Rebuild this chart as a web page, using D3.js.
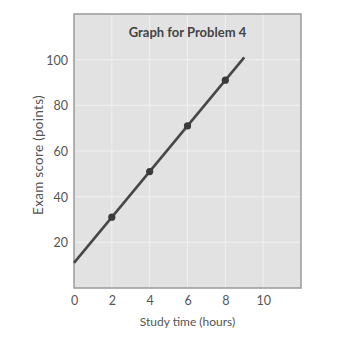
<!DOCTYPE html>
<meta charset="utf-8">
<html lang="en">
<head>
  <title>Graph for Problem 4</title>
  <script src="https://d3js.org/d3.v7.min.js"></script>
  <style>
    body { margin: 0; background: #fff; }
    text { font-family: Lato, "Open Sans", sans-serif; }
  </style>
</head>
<body>
<div id="chart"></div>
<script>
  // data
  var hours = [2, 4, 6, 8];
  var scores = [31, 51, 71, 91];
  var lineHours = [0, 9];
  var lineScores = [11, 101];
  var xTicks = [0, 2, 4, 6, 8, 10];
  var yTicks = [20, 40, 60, 80, 100];

  var W = 343, H = 337;
  var box = {left: 74, right: 301, top: 14, bottom: 288};

  var svg = d3.select("#chart").append("svg")
      .attr("width", W)
      .attr("height", H);

  var x = d3.scaleLinear().domain([0, 12]).range([box.left, box.right]);
  var y = d3.scaleLinear().domain([0, 120]).range([box.bottom, box.top]);

  // grey panel
  svg.append("rect")
    .attr("x", box.left).attr("y", box.top)
    .attr("width", box.right - box.left)
    .attr("height", box.bottom - box.top)
    .attr("fill", "#e2e2e2");

  // faint white grid
  svg.append("g").selectAll("line.v")
    .data(xTicks.slice(1))
    .enter().append("line")
      .attr("x1", function(d) { return x(d); })
      .attr("x2", function(d) { return x(d); })
      .attr("y1", box.top).attr("y2", box.bottom)
      .attr("stroke", "#f0f0f0").attr("stroke-width", 1);
  svg.append("g").selectAll("line.h")
    .data(yTicks)
    .enter().append("line")
      .attr("y1", function(d) { return y(d); })
      .attr("y2", function(d) { return y(d); })
      .attr("x1", box.left).attr("x2", box.right)
      .attr("stroke", "#f0f0f0").attr("stroke-width", 1);

  // border
  svg.append("rect")
    .attr("x", box.left).attr("y", box.top)
    .attr("width", box.right - box.left)
    .attr("height", box.bottom - box.top)
    .attr("fill", "none")
    .attr("stroke", "#9a9a9a")
    .attr("stroke-width", 1.5);

  // axes (labels only)
  var xAxis = svg.append("g")
    .attr("transform", "translate(0," + (box.bottom + 4) + ")")
    .call(d3.axisBottom(x).tickValues(xTicks).tickSize(0).tickPadding(4));
  var yAxis = svg.append("g")
    .attr("transform", "translate(" + (box.left - 4) + ",0)")
    .call(d3.axisLeft(y).tickValues(yTicks).tickSize(0).tickPadding(2));
  [xAxis, yAxis].forEach(function(a) {
    a.select(".domain").remove();
    a.selectAll("text")
      .style("font-family", "Lato, 'Open Sans', sans-serif")
      .style("font-size", "12.5px")
      .attr("fill", "#555");
  });
  yAxis.selectAll("text").attr("dy", "0.35em");

  // regression line
  var line = d3.line()
    .x(function(d) { return x(d[0]); })
    .y(function(d) { return y(d[1]); });
  svg.append("path")
    .datum(d3.zip(lineHours, lineScores))
    .attr("d", line)
    .attr("fill", "none")
    .attr("stroke", "#474747")
    .attr("stroke-width", 2.6);

  // points
  svg.append("g").selectAll("circle")
    .data(d3.zip(hours, scores))
    .enter().append("circle")
      .attr("cx", function(d) { return x(d[0]); })
      .attr("cy", function(d) { return y(d[1]); })
      .attr("r", 3.6)
      .attr("fill", "#3a3a3a");

  // title
  svg.append("text")
    .attr("x", (box.left + box.right) / 2)
    .attr("y", 37)
    .attr("text-anchor", "middle")
    .style("font-size", "13px")
    .style("font-weight", "bold")
    .attr("fill", "#444")
    .text("Graph for Problem 4");

  // x label
  svg.append("text")
    .attr("x", (box.left + box.right) / 2)
    .attr("y", 326)
    .attr("text-anchor", "middle")
    .style("font-size", "12px")
    .attr("fill", "#555")
    .text("Study time (hours)");

  // y label
  svg.append("text")
    .attr("transform", "translate(38," + ((box.top + box.bottom) / 2 + 4) + ") rotate(-90)")
    .attr("dy", "0.35em")
    .attr("text-anchor", "middle")
    .style("font-size", "13.5px")
    .attr("fill", "#555")
    .style("letter-spacing", "0.3px")
    .text("Exam score (points)");
</script>
</body>
</html>
